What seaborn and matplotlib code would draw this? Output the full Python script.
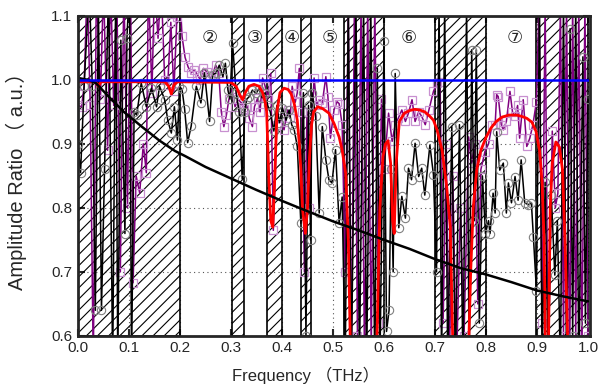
import matplotlib
matplotlib.use("Agg")
import matplotlib.pyplot as plt
import seaborn as sns

# stop bands (hatched), THz
bands = [(0.0, 0.2), (0.302, 0.326), (0.371, 0.400), (0.437, 0.456),
         (0.521, 0.600), (0.700, 0.801), (0.899, 1.0)]

# pass band numbers
band_labels = ["②", "③", "④", "⑤", "⑥", "⑦"]
band_label_x = [0.258, 0.346, 0.420, 0.494, 0.648, 0.857]

# measured, black with circles
black_f = [0.000, 0.005, 0.012, 0.022, 0.028, 0.034, 0.040, 0.046, 0.052, 0.060,
           0.068, 0.074, 0.078, 0.084, 0.092, 0.096, 0.101, 0.105, 0.110, 0.115,
           0.124, 0.134, 0.144, 0.154, 0.160, 0.170, 0.176, 0.183, 0.189, 0.195,
           0.199, 0.204, 0.209, 0.215, 0.222, 0.232, 0.241, 0.248, 0.258, 0.264,
           0.271, 0.277, 0.284, 0.289, 0.294, 0.298, 0.303, 0.310, 0.316, 0.322,
           0.327, 0.331, 0.336, 0.342, 0.349, 0.355, 0.361, 0.367, 0.372, 0.377,
           0.384, 0.390, 0.395, 0.401, 0.408, 0.414, 0.419, 0.424, 0.430, 0.437,
           0.442, 0.447, 0.452, 0.456, 0.459, 0.466, 0.473, 0.479, 0.486, 0.492,
           0.498, 0.505, 0.512, 0.518, 0.524, 0.530, 0.536, 0.545, 0.552, 0.560,
           0.566, 0.574, 0.582, 0.587, 0.592, 0.600, 0.605, 0.610, 0.614, 0.618,
           0.622, 0.629, 0.635, 0.642, 0.648, 0.654, 0.661, 0.668, 0.674, 0.680,
           0.690, 0.697, 0.703, 0.708, 0.713, 0.719, 0.725, 0.733, 0.740, 0.748,
           0.755, 0.762, 0.767, 0.772, 0.777, 0.781, 0.787, 0.793, 0.799, 0.805,
           0.808, 0.814, 0.818, 0.821, 0.827, 0.834, 0.840, 0.844, 0.850, 0.857,
           0.863, 0.869, 0.876, 0.883, 0.889, 0.893, 0.899, 0.905, 0.910, 0.916,
           0.922, 0.928, 0.935, 0.940, 0.946, 0.952, 0.958, 0.965, 0.970, 0.976,
           0.982, 0.990, 0.995, 1.000]
black_amp = [0.90, 0.855, 0.99, 1.15, 0.99, 0.64, 1.12, 0.64, 0.86, 1.15,
             0.55, 1.15, 0.55, 1.062, 0.76, 1.066, 1.15, 0.55, 0.95, 0.945,
             0.995, 0.958, 0.987, 0.958, 0.99, 0.969, 0.937, 0.917, 0.958, 0.906,
             0.99, 0.985, 0.955, 0.902, 0.928, 0.99, 0.964, 1.011, 0.935, 1.008,
             1.011, 1.023, 1.005, 1.026, 0.984, 0.97, 1.058, 0.98, 0.95, 0.845,
             0.95, 0.97, 0.974, 0.984, 0.979, 0.986, 0.972, 0.98, 0.96, 0.95,
             0.92, 0.96, 0.933, 0.956, 0.937, 0.953, 0.93, 0.922, 0.896, 0.776,
             0.98, 0.60, 0.96, 0.75, 0.98, 0.943, 0.792, 0.927, 0.875, 0.844,
             0.839, 0.891, 0.776, 0.817, 0.55, 1.12, 0.55, 1.12, 0.56, 1.12,
             0.55, 1.12, 0.55, 1.018, 0.55, 1.06, 0.607, 0.64, 0.86, 0.70,
             1.01, 0.769, 0.818, 0.784, 0.862, 0.844, 0.901, 0.849, 0.862, 0.82,
             0.898, 0.852, 0.70, 1.12, 0.55, 1.12, 0.55, 0.927, 0.55, 0.93,
             0.55, 1.12, 0.55, 1.047, 0.78, 1.047, 0.62, 0.85, 0.76, 0.78,
             0.76, 0.823, 0.792, 0.919, 0.859, 0.87, 0.792, 0.839, 0.808, 0.849,
             0.812, 0.875, 0.808, 0.805, 0.808, 0.755, 0.67, 1.12, 0.55, 0.84,
             0.55, 0.82, 0.695, 0.78, 0.55, 1.12, 0.55, 1.08, 0.60, 1.12,
             0.55, 1.036, 0.62, 0.97]

# measured, purple with squares
purple_f = [0.000, 0.007, 0.012, 0.018, 0.024, 0.030, 0.036, 0.044, 0.050, 0.058,
            0.064, 0.070, 0.076, 0.083, 0.090, 0.097, 0.103, 0.108, 0.114, 0.121,
            0.128, 0.134, 0.138, 0.145, 0.150, 0.157, 0.163, 0.170, 0.176, 0.182,
            0.188, 0.194, 0.199, 0.204, 0.210, 0.216, 0.222, 0.228, 0.234, 0.240,
            0.246, 0.252, 0.258, 0.264, 0.270, 0.276, 0.281, 0.286, 0.291, 0.296,
            0.302, 0.308, 0.314, 0.320, 0.326, 0.332, 0.336, 0.342, 0.346, 0.352,
            0.357, 0.362, 0.367, 0.372, 0.378, 0.383, 0.390, 0.396, 0.404, 0.411,
            0.416, 0.420, 0.426, 0.430, 0.434, 0.439, 0.444, 0.449, 0.453, 0.459,
            0.463, 0.468, 0.473, 0.479, 0.486, 0.490, 0.495, 0.502, 0.508, 0.512,
            0.518, 0.524, 0.530, 0.536, 0.542, 0.548, 0.555, 0.562, 0.568, 0.575,
            0.582, 0.589, 0.595, 0.600, 0.604, 0.609, 0.616, 0.622, 0.628, 0.635,
            0.642, 0.648, 0.655, 0.661, 0.668, 0.674, 0.681, 0.688, 0.697, 0.704,
            0.710, 0.716, 0.722, 0.728, 0.735, 0.742, 0.750, 0.757, 0.766, 0.772,
            0.778, 0.784, 0.790, 0.798, 0.805, 0.812, 0.818, 0.821, 0.824, 0.830,
            0.834, 0.840, 0.847, 0.852, 0.857, 0.862, 0.866, 0.873, 0.880, 0.886,
            0.892, 0.899, 0.904, 0.910, 0.916, 0.922, 0.930, 0.936, 0.941, 0.946,
            0.952, 0.958, 0.964, 0.970, 0.976, 0.982, 0.988, 0.994, 1.000]
purple_amp = [0.96, 0.958, 0.99, 1.15, 0.96, 0.55, 1.15, 0.97, 1.15, 0.89,
              1.15, 0.96, 1.15, 0.70, 1.15, 0.80, 1.15, 0.683, 0.85, 0.823,
              0.90, 0.855, 1.15, 0.98, 1.15, 1.065, 1.15, 1.0, 0.992, 1.09,
              0.982, 1.099, 1.15, 1.068, 1.035, 1.02, 1.011, 1.016, 1.008, 1.0,
              1.018, 1.013, 1.003, 1.008, 1.023, 1.011, 0.95, 0.927, 0.945, 0.97,
              0.985, 0.958, 0.97, 0.964, 0.955, 0.958, 0.94, 0.927, 0.958, 0.971,
              0.95, 1.003, 0.99, 0.97, 1.01, 0.765, 0.93, 0.94, 0.922, 0.953,
              0.94, 0.99, 0.965, 0.98, 1.018, 0.95, 0.70, 0.95, 0.80, 0.943,
              1.003, 0.96, 0.969, 0.964, 1.005, 0.974, 0.909, 0.953, 0.966, 0.963,
              0.93, 0.70, 1.12, 0.55, 1.12, 0.60, 1.12, 0.55, 1.12, 0.58,
              1.12, 0.62, 0.97, 0.86, 0.90, 0.948, 0.904, 0.93, 0.94, 0.953,
              0.935, 0.948, 0.969, 0.935, 0.95, 0.943, 0.93, 0.953, 0.982, 0.995,
              0.997, 0.62, 0.90, 0.55, 0.85, 0.55, 0.80, 0.60, 0.911, 0.87,
              0.90, 0.65, 0.86, 0.888, 0.90, 0.93, 0.93, 0.977, 0.974, 0.93,
              0.922, 0.935, 0.982, 0.95, 0.943, 0.96, 0.909, 0.969, 0.896, 0.909,
              0.93, 0.966, 1.12, 0.62, 1.12, 0.55, 0.92, 0.80, 0.823, 1.12,
              0.60, 1.12, 0.55, 1.12, 0.60, 1.12, 0.55, 1.12, 0.60]

# simulated transmission, red
red_f = [0.000, 0.035, 0.040, 0.045, 0.170, 0.178, 0.183, 0.188, 0.195, 0.300,
         0.310, 0.318, 0.323, 0.328, 0.335, 0.345, 0.355, 0.362, 0.367, 0.370,
         0.374, 0.378, 0.382, 0.386, 0.390, 0.396, 0.404, 0.412, 0.418, 0.424,
         0.430, 0.434, 0.437, 0.440, 0.446, 0.450, 0.454, 0.458, 0.462, 0.470,
         0.480, 0.492, 0.502, 0.512, 0.518, 0.525, 0.530, 0.535, 0.585, 0.592,
         0.598, 0.603, 0.608, 0.613, 0.617, 0.620, 0.624, 0.630, 0.640, 0.650,
         0.660, 0.670, 0.680, 0.690, 0.697, 0.704, 0.714, 0.723, 0.730, 0.736,
         0.765, 0.770, 0.775, 0.782, 0.790, 0.800, 0.810, 0.820, 0.832, 0.845,
         0.860, 0.870, 0.880, 0.890, 0.898, 0.905, 0.910, 0.914, 0.917, 0.922,
         0.926, 0.930, 0.937, 0.944, 0.950, 0.955, 0.960, 0.963]
red_amp = [0.997, 0.997, 0.99, 0.997, 0.997, 0.99, 0.978, 0.992, 0.997, 0.996,
           0.99, 0.975, 0.969, 0.98, 0.99, 0.993, 0.99, 0.98, 0.965, 0.95,
           0.85, 0.78, 0.77, 0.85, 0.95, 0.98, 0.987, 0.985, 0.978, 0.963,
           0.937, 0.90, 0.86, 0.80, 0.76, 0.80, 0.88, 0.93, 0.95, 0.958,
           0.955, 0.948, 0.932, 0.911, 0.89, 0.854, 0.75, 0.55, 0.55, 0.80,
           0.88, 0.90, 0.905, 0.87, 0.78, 0.76, 0.87, 0.935, 0.948, 0.952,
           0.954, 0.953, 0.95, 0.943, 0.937, 0.922, 0.89, 0.833, 0.77, 0.55,
           0.55, 0.70, 0.80, 0.86, 0.89, 0.91, 0.925, 0.935, 0.942, 0.945,
           0.945, 0.943, 0.94, 0.934, 0.92, 0.89, 0.84, 0.75, 0.55, 0.55,
           0.80, 0.87, 0.903, 0.895, 0.86, 0.75, 0.60, 0.55]

# reference curve, smooth black
ref_f = [0.000, 0.020, 0.035, 0.060, 0.090, 0.125, 0.160, 0.190, 0.210, 0.250,
         0.300, 0.350, 0.400, 0.440, 0.500, 0.550, 0.600, 0.650, 0.700, 0.750,
         0.800, 0.850, 0.900, 0.950, 1.000]
ref_amp = [1.003, 1.000, 0.995, 0.974, 0.950, 0.927, 0.905, 0.889, 0.881, 0.864,
           0.846, 0.828, 0.811, 0.798, 0.779, 0.765, 0.750, 0.736, 0.720, 0.706,
           0.696, 0.684, 0.671, 0.662, 0.654]

unity_f = [0.0, 1.0]
unity_amp = [1.0, 1.0]

sns.set_style("ticks")
plt.rcParams['font.family'] = ['Liberation Sans', 'Noto Sans CJK SC', 'DejaVu Sans']
plt.rcParams['hatch.linewidth'] = 0.8

fig = plt.figure(figsize=(6.07, 3.87), dpi=100)
ax = fig.add_axes([0.1285, 0.132, 0.8435, 0.827])

for x0, x1 in bands:
    ax.axvspan(x0, x1, facecolor='none', edgecolor='black', hatch='///', lw=1.2, zorder=1)

sns.lineplot(x=purple_f, y=purple_amp, ax=ax, color='#800080', lw=1.1,
             marker='s', markersize=5.5, markerfacecolor='none',
             markeredgecolor='#c890d0', markeredgewidth=0.9,
             estimator=None, sort=False, zorder=3)
sns.lineplot(x=black_f, y=black_amp, ax=ax, color='black', lw=1.1,
             marker='o', markersize=6, markerfacecolor='none',
             markeredgecolor='#808080', markeredgewidth=0.8,
             estimator=None, sort=False, zorder=4)
sns.lineplot(x=red_f, y=red_amp, ax=ax, color='#ff0000', lw=2.0,
             estimator=None, sort=False, zorder=5)
sns.lineplot(x=ref_f, y=ref_amp, ax=ax, color='black', lw=1.8,
             estimator=None, sort=False, zorder=6)
sns.lineplot(x=unity_f, y=unity_amp, ax=ax, color='#0000ff', lw=1.8,
             estimator=None, sort=False, zorder=7)

for lab, x in zip(band_labels, band_label_x):
    ax.text(x, 1.066, lab, ha='center', va='center', fontsize=13,
            family=['DejaVu Sans', 'Noto Sans CJK SC'], zorder=8)

ax.set_xlim(0, 1.004)
ax.set_ylim(0.6, 1.1)
ax.set_xticks([0.0, 0.1, 0.2, 0.3, 0.4, 0.5, 0.6, 0.7, 0.8, 0.9, 1.0])
ax.set_yticks([0.6, 0.7, 0.8, 0.9, 1.0, 1.1])
ax.set_xticklabels(["0.0", "0.1", "0.2", "0.3", "0.4", "0.5", "0.6", "0.7", "0.8", "0.9", "1.0"])
ax.set_yticklabels(["0.6", "0.7", "0.8", "0.9", "1.0", "1.1"])
ax.grid(True, color='#555555', linestyle=(0, (1, 3)), lw=0.8, zorder=0)
ax.set_axisbelow(True)
ax.tick_params(direction='in', top=True, right=True, length=5, width=1.5,
               labelsize=11, pad=4)
for s in ax.spines.values():
    s.set_linewidth(2)
    s.set_zorder(10)

ax.set_xlabel("Frequency （THz）", fontsize=12)
ax.set_ylabel("Amplitude Ratio （ a.u.）", fontsize=14.5)
ax.xaxis.set_label_coords(0.445, -0.095)
ax.yaxis.set_label_coords(-0.1, 0.5)
if ax.get_legend():
    ax.get_legend().remove()

fig.savefig("out.png", dpi=100)
